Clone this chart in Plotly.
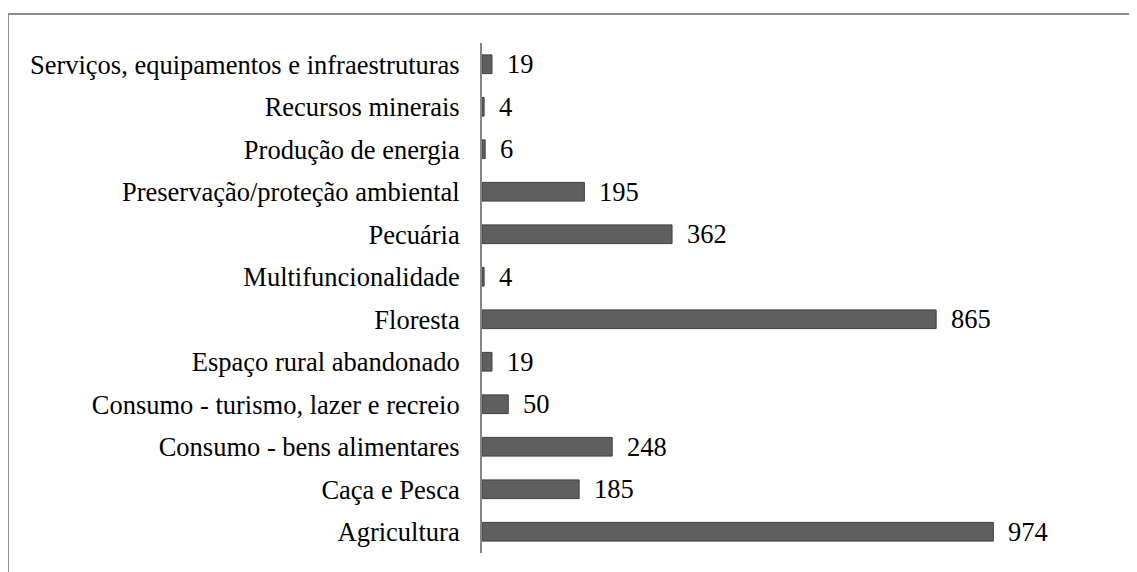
import plotly.graph_objects as go

categories = [
    "Agricultura",
    "Caça e Pesca",
    "Consumo - bens alimentares",
    "Consumo - turismo, lazer e recreio",
    "Espaço rural abandonado",
    "Floresta",
    "Multifuncionalidade",
    "Pecuária",
    "Preservação/proteção ambiental",
    "Produção de energia",
    "Recursos minerais",
    "Serviços, equipamentos e infraestruturas",
]
values = [974, 185, 248, 50, 19, 865, 4, 362, 195, 6, 4, 19]

FONT = "Liberation Serif"
FS = 26.5

fig = go.Figure()
fig.add_trace(go.Bar(
    y=categories,
    x=values,
    orientation="h",
    width=0.44,
    marker=dict(color="#5f5f5f", line=dict(color="#3f3f3f", width=1)),
    hoverinfo="skip",
))

for c, v in zip(categories, values):
    fig.add_annotation(
        x=v, y=c, text=str(v), showarrow=False,
        xanchor="left", yanchor="middle", xshift=13,
        font=dict(family=FONT, size=FS, color="#000000"),
    )

fig.add_shape(
    type="rect", xref="paper", yref="paper",
    x0=-0.9029, x1=1.5, y0=-0.5, y1=1.0569,
    line=dict(color="#8c8c8c", width=2), fillcolor="rgba(0,0,0,0)",
    layer="below",
)

fig.update_layout(
    width=1129, height=564,
    margin=dict(l=474, r=130, t=35, b=19, autoexpand=False),
    paper_bgcolor="white", plot_bgcolor="white",
    showlegend=False,
    xaxis=dict(range=[0, 1000], visible=False, fixedrange=True, automargin=False),
    yaxis=dict(
        categoryorder="array", categoryarray=categories,
        showline=True, linecolor="#868686", linewidth=2,
        showgrid=False, zeroline=False, ticks="",
        ticklabelstandoff=15, automargin=False,
        tickfont=dict(family=FONT, size=FS, color="#000000"),
        range=[-0.5, 11.5], fixedrange=True,
    ),
)

fig.write_html("out.html")
